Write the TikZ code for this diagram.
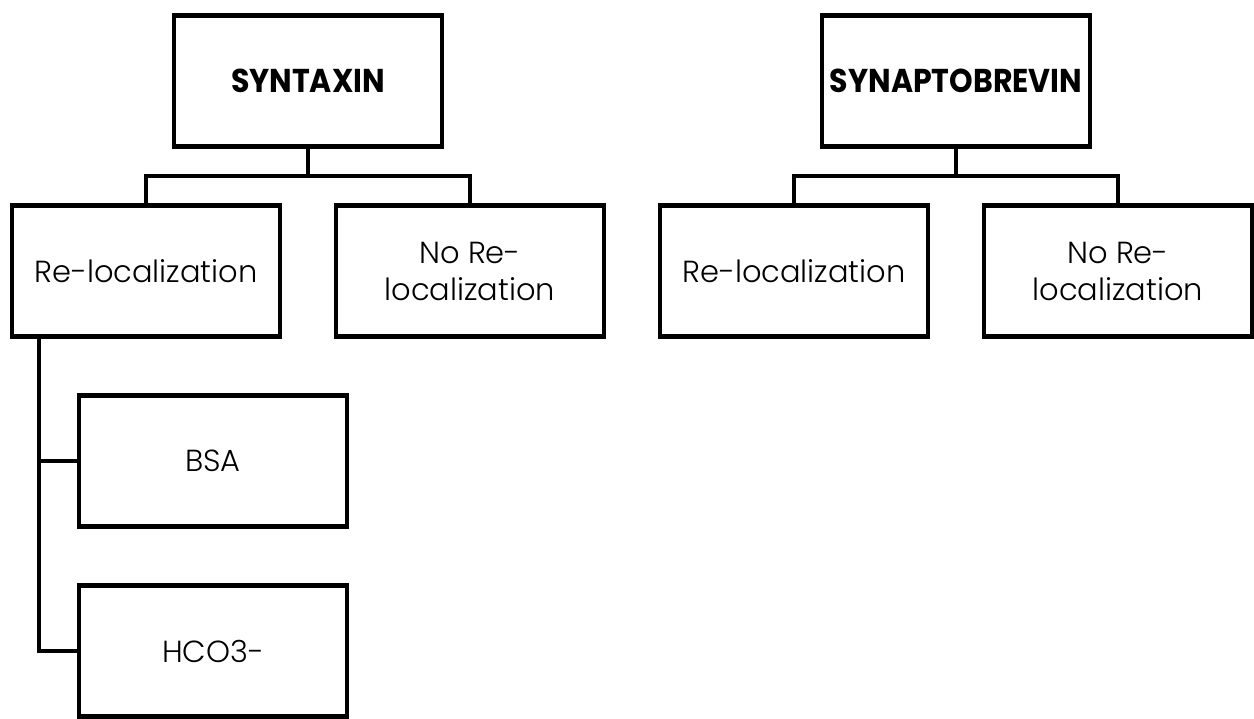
\documentclass[tikz,border=0pt]{standalone}
\usepackage{fontspec}
\setmainfont{Poppins}[UprightFont=* Light, BoldFont=* Bold]
\newfontfamily\titlefont{Poppins}[UprightFont=* Bold, BoldFont=* Bold, FakeStretch=0.91]
\usetikzlibrary{positioning, calc}
\tikzset{
x=1pt, y=1pt, % one unit is one pixel of the picture
node distance=59pt and 56pt, % vertical and horizontal gaps between the boxes
box/.style={draw, line width=4.5pt, outer sep=0pt, minimum width=268pt, minimum height=131pt, inner sep=2pt, align=center, font=\fontsize{30.5}{37}\selectfont}, % every box
title/.style={font=\titlefont\fontsize{33}{38}\selectfont}, % the two top boxes
link/.style={line width=3.2pt}, % the tree lines
}
\begin{document}
\begin{tikzpicture}
        \useasboundingbox (0,0) rectangle (1254,-719);
        \node[box] (relA) at (146,-271) {Re-localization};
        \node[box, right=of relA] (noA) {No Re-\\localization};
        \node[box, right=of noA] (relB) {Re-localization};
        \node[box, right=of relB] (noB) {No Re-\\localization};

        \coordinate (midA) at ($(relA.north)!0.5!(noA.north)$);
        \coordinate (midB) at ($(relB.north)!0.5!(noB.north)$);
        \node[box, title, above=of midA] (syntaxin) {SYNTAXIN};
        \node[box, title, above=of midB] (synapto) {SYNAPTOBREVIN};

        \node[box, below=of relA, xshift=67pt] (bsa) {BSA};
        \node[box, below=of bsa] (hco) {HCO3-};

        \coordinate (forkA) at ($(syntaxin.south)!0.5!(midA)$);
        \coordinate (forkB) at ($(synapto.south)!0.5!(midB)$);
        \coordinate (stem) at ([xshift=27pt]relA.south west);

        \draw[link] (syntaxin.south) -- (forkA) -| (relA.north);
        \draw[link] (forkA) -| (noA.north);
        \draw[link] (synapto.south) -- (forkB) -| (relB.north);
        \draw[link] (forkB) -| (noB.north);
        \draw[link] (stem) |- (bsa.west);
        \draw[link] (stem) |- (hco.west);
    \end{tikzpicture}
\end{document}
